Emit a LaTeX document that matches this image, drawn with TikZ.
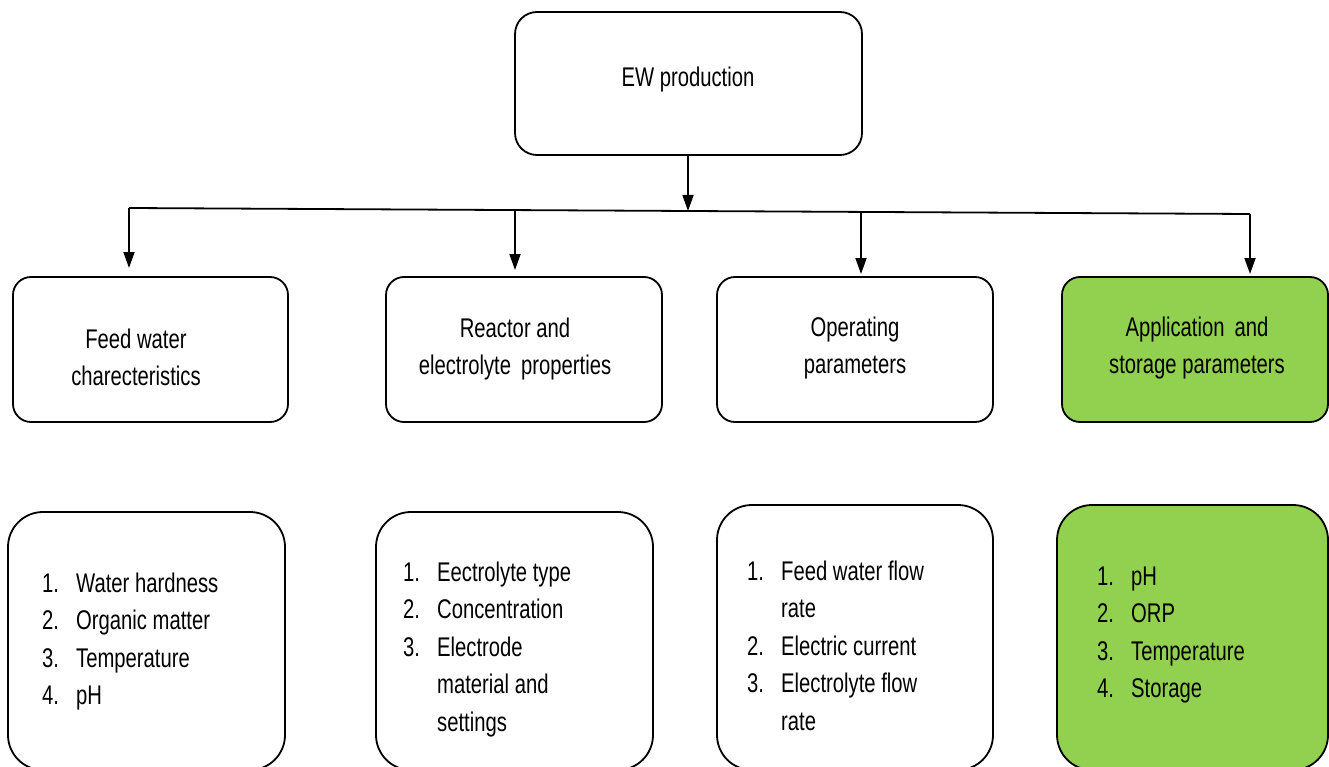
\documentclass[tikz,border=0pt]{standalone}
\usepackage{fontspec}
\setmainfont[FakeStretch=0.75]{Liberation Sans}
\usetikzlibrary{arrows.meta}
\definecolor{appgreen}{HTML}{92D050}
\tikzset{
  box/.style={draw=black, line width=1.8pt, inner sep=0pt, outer sep=0pt, fill=white},
  topbox/.style={box, rounded corners=22pt, minimum width=347pt, minimum height=143pt},
  midbox/.style={box, rounded corners=18pt, minimum height=145pt},
  lowbox/.style={box, rounded corners=35pt},
  lbl/.style={inner sep=0pt, anchor=base, font=\fontsize{27}{37}\selectfont},
  lst/.style={inner sep=0pt, anchor=base west, font=\fontsize{27}{37.5}\selectfont},
  conn/.style={draw=black, line width=1.8pt},
  arr/.style={conn, -{Triangle[width=11pt,length=16pt]}},
}
\newcommand{\itm}[1]{\makebox[34pt][l]{#1}}
\begin{document}
\begin{tikzpicture}[x=1pt,y=-1pt]
\useasboundingbox (0,0) rectangle (1329,767);
\fill[white] (0,0) rectangle (1329,767);

% top box
\node[topbox] (tb) at (688.5,83.5) {};
\node[lbl] (tbt) at (688,87) {EW production};

% middle boxes
\node[midbox, minimum width=275pt] (m1) at (150.5,349.5) {};
\node[midbox, minimum width=276pt] (m2) at (524,349.5) {};
\node[midbox, minimum width=276pt] (m3) at (855,349.5) {};
\node[midbox, minimum width=266pt, fill=appgreen] (m4) at (1195,349.5) {};

\node[lbl] (m1t) at (136,348) {\begin{tabular}[t]{@{}c@{}}Feed water\\charecteristics\end{tabular}};
\node[lbl] (m2t) at (515,337) {\begin{tabular}[t]{@{}c@{}}Reactor and\\electrolyte\ \,properties\end{tabular}};
\node[lbl] (m3t) at (855,336) {\begin{tabular}[t]{@{}c@{}}Operating\\parameters\end{tabular}};
\node[lbl] (m4t) at (1197,336) {\begin{tabular}[t]{@{}c@{}}Application\ \,and\\storage parameters\end{tabular}};

% bottom boxes
\node[lowbox, minimum width=277pt, minimum height=258pt] (b1) at (146.5,641) {};
\node[lowbox, minimum width=277pt, minimum height=258pt] (b2) at (514.5,641) {};
\node[lowbox, minimum width=276pt, minimum height=265pt] (b3) at (855,637.5) {};
\node[lowbox, minimum width=271pt, minimum height=265pt, fill=appgreen] (b4) at (1192.5,637.5) {};

\node[lst] (b1t) at (42,592) {\begin{tabular}[t]{@{}l@{}}\itm{1.}Water hardness\\\itm{2.}Organic matter\\\itm{3.}Temperature\\\itm{4.}pH\end{tabular}};
\node[lst] (b2t) at (403,581) {\begin{tabular}[t]{@{}l@{}}\itm{1.}Eectrolyte type\\\itm{2.}Concentration\\\itm{3.}Electrode\\\itm{}material and\\\itm{}settings\end{tabular}};
\node[lst] (b3t) at (747,580) {\begin{tabular}[t]{@{}l@{}}\itm{1.}Feed water flow\\\itm{}rate\\\itm{2.}Electric current\\\itm{3.}Electrolyte flow\\\itm{}rate\end{tabular}};
\node[lst] (b4t) at (1097,585) {\begin{tabular}[t]{@{}l@{}}\itm{1.}pH\\\itm{2.}ORP\\\itm{3.}Temperature\\\itm{4.}Storage\end{tabular}};

% connectors
\coordinate (j1) at (129,208);
\coordinate (j2) at (515,210.1);
\coordinate (jt) at (688,211);
\coordinate (j3) at (861,211.9);
\coordinate (j4) at (1250,214);
\draw[conn] (j1) -- (j4);
\draw[arr] (tb.south -| jt) -- (jt);
\draw[arr, shorten >=9pt] (j1) -- (j1 |- m1.north);
\draw[arr, shorten >=7pt] (j2) -- (j2 |- m2.north);
\draw[arr, shorten >=3pt] (j3) -- (j3 |- m3.north);
\draw[arr, shorten >=3pt] (j4) -- (j4 |- m4.north);
\end{tikzpicture}
\end{document}
